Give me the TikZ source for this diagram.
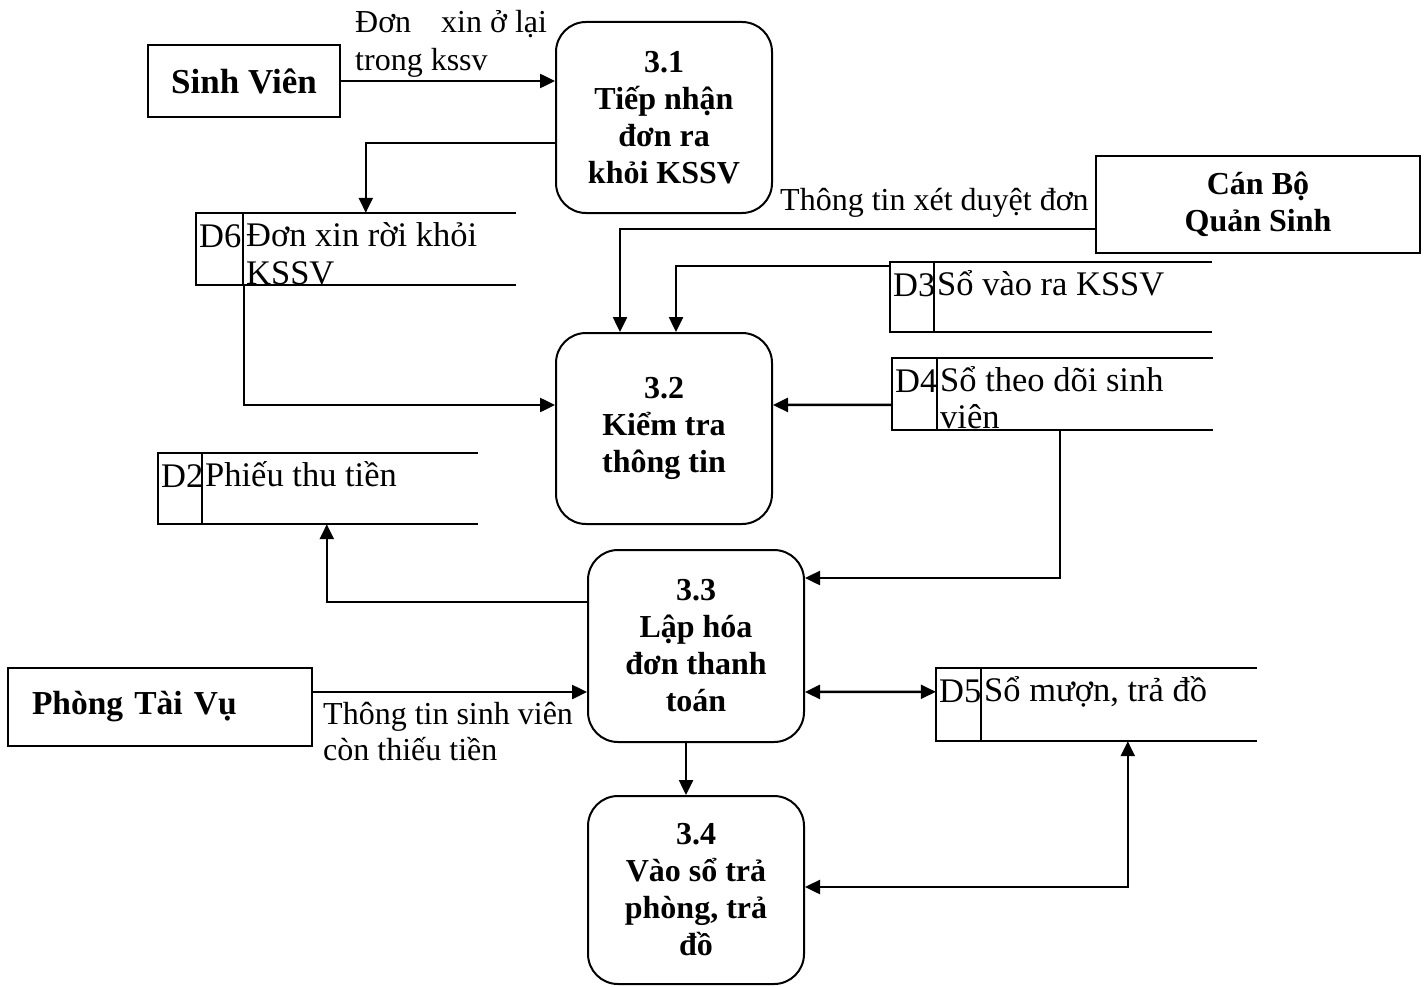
\documentclass[tikz,border=0pt]{standalone}
\usepackage{fontspec}
\setmainfont{Liberation Serif}
\usetikzlibrary{arrows.meta,fit}

\tikzset{
  every picture/.style={x=1pt,y=-1pt},
  base/.style={line width=2pt},
  flow/.style={line width=2.5pt},
  arr/.style={flow,-{Triangle[length=15pt,width=14pt]}},
  darr/.style={flow,{Triangle[length=15pt,width=14pt]}-{Triangle[length=15pt,width=14pt]}},
  proc/.style={base,draw,rounded corners=30pt,minimum width=216pt,align=center,
    inner sep=0pt,font=\fontsize{32}{37}\selectfont\bfseries},
  ent/.style={base,draw,inner sep=0pt,align=center,font=\fontsize{32}{37}\selectfont\bfseries},
  txt/.style={inner sep=0pt,anchor=base west,font=\fontsize{32}{37}\selectfont},
  stxt/.style={inner sep=0pt,anchor=base west,font=\fontsize{34.5}{37}\selectfont},
  area/.style={inner sep=0pt}
}

% data store: name, x1, y1, x2, y2, divider x, id
\newcommand{\dstore}[7]{%
  \node[area,fit={(#2,#3) (#4,#5)}] (#1) {};
  \draw[base] (#1.north east) -- (#1.north west) -- (#1.south west) -- (#1.south east);
  \draw[base] (#6,#3) -- (#6,#5);
  \node[stxt] (#1id) at (#2+3,#3+34) {#7};
}

\begin{document}
\begin{tikzpicture}
\useasboundingbox (0,0) rectangle (1426,987);

% external entities
\node[ent,minimum width=192pt,minimum height=72pt,font=\fontsize{35}{37}\selectfont\bfseries] (sv) at (244,81) {Sinh Viên};
\node[ent,minimum width=324pt,minimum height=97pt] (cb) at (1258,204.5) {Cán Bộ\\Quản Sinh};
\node[ent,minimum width=304pt,minimum height=78pt,align=left,text width=256pt,inner xsep=24pt,
  font=\fontsize{33.5}{37}\selectfont\bfseries] (ptv) at (160,707) {Phòng Tài Vụ};

% processes
\node[proc,minimum height=191pt] (p31) at (664,117.5) {3.1\\Tiếp nhận\\đơn ra\\khỏi KSSV};
\node[proc,minimum height=191pt] (p32) at (664,428.5) {3.2\\Kiểm tra\\thông tin};
\node[proc,minimum height=192pt] (p33) at (696,646) {3.3\\Lập hóa\\đơn thanh\\toán};
\node[proc,minimum height=188pt] (p34) at (696,890) {3.4\\Vào sổ trả\\phòng, trả\\đồ};

% data stores
\dstore{d6}{196}{213}{516}{285}{243}{D6}
\node[stxt] (d6a) at (246,246) {Đơn xin rời khỏi};
\node[stxt] (d6b) at (246,284) {KSSV};

\dstore{d3}{890}{262}{1212}{332}{934}{D3}
\node[stxt] (d3a) at (937,295) {Sổ vào ra KSSV};

\dstore{d4}{892}{358}{1213}{430}{937}{D4}
\node[stxt] (d4a) at (940,391) {Sổ theo dõi sinh};
\node[stxt] (d4b) at (940,428) {viên};

\dstore{d2}{158}{453}{478}{524}{202}{D2}
\node[stxt] (d2a) at (205,486) {Phiếu thu tiền};

\dstore{d5}{936}{668}{1257}{741}{981}{D5}
\node[stxt] (d5a) at (984,701) {Sổ mượn, trả đồ};

% flow labels
\node[txt] (l1a) at (355,33) {Đơn\hspace{30pt}xin ở lại};
\node[txt] (l1b) at (355,71) {trong kssv};
\node[txt] (l2) at (780,211) {Thông tin xét duyệt đơn};
\node[txt] (l3a) at (323,724) {Thông tin sinh viên};
\node[txt] (l3b) at (323,760) {còn thiếu tiền};

% flows
\draw[arr] (sv.east) -- (sv.east -| p31.west);
\draw[arr] ([yshift=-25.5pt]p31.west) -| ([xshift=170pt]d6.north west);
\draw[arr] ([xshift=48pt]d6.south west) |- ([yshift=23.5pt]p32.west);
\draw[arr] ([yshift=-24.5pt]cb.west) -| ([xshift=-44pt]p32.north);
\draw[arr] ([yshift=-4pt]d3.north west) -| ([xshift=12pt]p32.north);
\draw[arr] ([yshift=-47pt]d4.north west) -- ([yshift=23.5pt]p32.east);
\draw[arr] ([xshift=168pt]d4.south west) |- ([yshift=68pt]p33.east);
\draw[arr] ([yshift=44pt]p33.west) -| ([xshift=169pt]d2.south west);
\draw[arr] ([yshift=15pt]ptv.east) -- ([yshift=-46pt]p33.west);
\draw[darr] ([yshift=-46pt]p33.east) -- ([yshift=-24pt]d5.north west);
\draw[arr] ([xshift=-10pt]p33.south) -- ([xshift=-10pt]p34.north);
\draw[darr] ([yshift=3pt]p34.east) -| ([xshift=192pt]d5.south west);
\end{tikzpicture}
\end{document}
